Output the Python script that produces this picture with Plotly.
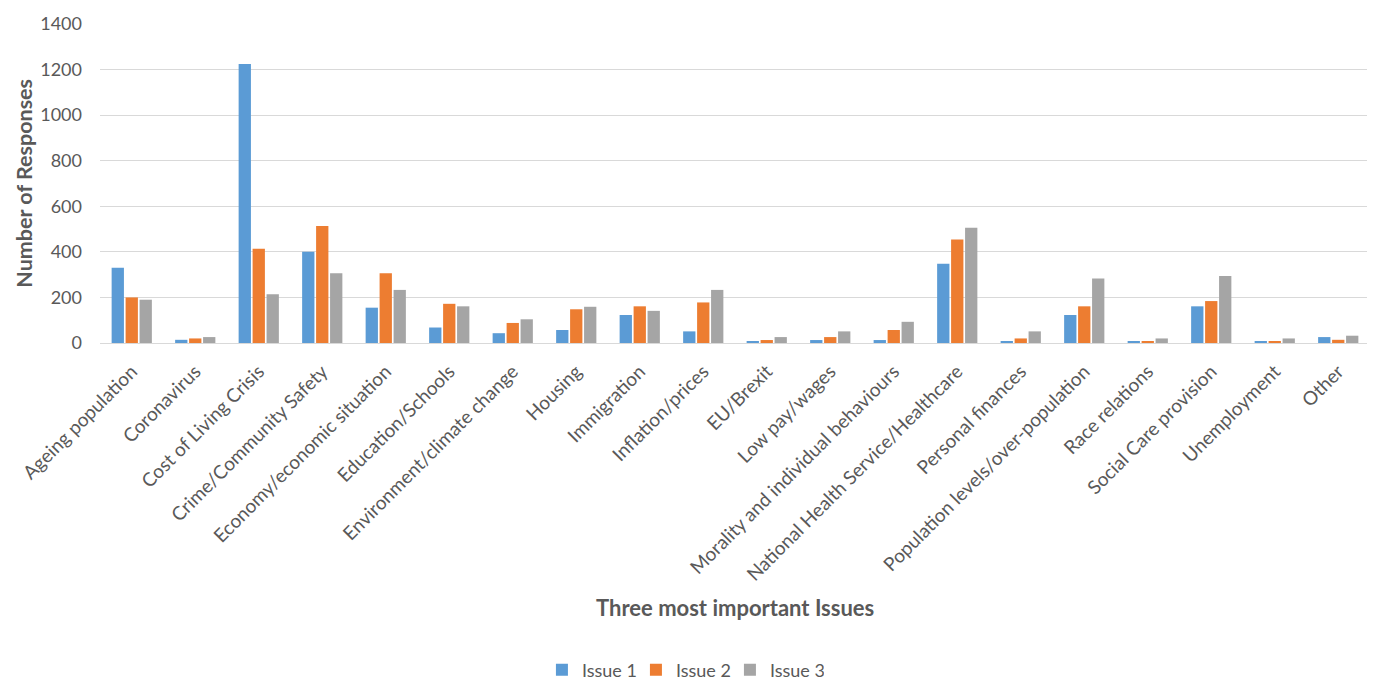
import plotly.graph_objects as go

categories = [
    "Ageing population", "Coronavirus", "Cost of Living Crisis", "Crime/Community Safety",
    "Economy/economic situation", "Education/Schools", "Environment/climate change",
    "Housing", "Immigration", "Inflation/prices", "EU/Brexit", "Low pay/wages",
    "Morality and individual behaviours", "National Health Service/Healthcare",
    "Personal finances", "Population levels/over-population", "Race relations",
    "Social Care provision", "Unemployment", "Other",
]
issue1 = [330, 14, 1225, 400, 155, 68, 43, 57, 123, 51, 7, 13, 13, 348, 7, 123, 7, 161, 7, 26]
issue2 = [200, 20, 414, 513, 306, 172, 88, 148, 161, 178, 13, 26, 57, 454, 20, 161, 7, 184, 7, 14]
issue3 = [190, 26, 214, 306, 233, 161, 104, 159, 141, 233, 26, 51, 93, 506, 51, 283, 20, 294, 20, 32]
series_names = ["Issue 1", "Issue 2", "Issue 3"]
colors = ["#5B9BD5", "#ED7D31", "#A5A5A5"]
y_ticks = [0, 200, 400, 600, 800, 1000, 1200, 1400]

FONT = "Lato"
TXT = "#595959"

fig = go.Figure()
for name, vals, col in zip(series_names, [issue1, issue2, issue3], colors):
    fig.add_trace(go.Bar(x=categories, y=vals, name=name, marker=dict(color=col, line=dict(width=0))))

# page body has an 8px margin, so the figure is sized/offset to compensate
fig.update_layout(
    width=1367, height=672,
    paper_bgcolor="white", plot_bgcolor="white",
    margin=dict(l=92, r=5, t=16, b=337, autoexpand=False),
    barmode="group", bargap=0.34, bargroupgap=0.12,
    font=dict(family=FONT, color=TXT, size=18),
    legend=dict(orientation="h", x=0.459, xanchor="center", y=-1.025, yanchor="middle",
                font=dict(size=18, color=TXT), itemwidth=30, traceorder="normal",
                entrywidth=49, entrywidthmode="pixels"),
    xaxis=dict(tickangle=-45, tickfont=dict(size=19, color=TXT), showgrid=False,
               showline=True, linecolor="#D9D9D9", linewidth=1, ticks="", ticklen=0,
               ticklabelstandoff=9, automargin=False),
    yaxis=dict(range=[0, 1400], tickvals=y_ticks, tickfont=dict(size=18, color=TXT),
               showgrid=True, gridcolor="#D9D9D9", gridwidth=1, zeroline=False,
               ticks="", ticklen=0, ticklabelstandoff=17, automargin=False),
    annotations=[
        dict(text="<b>Three most important Issues</b>", xref="paper", yref="paper",
             x=0.5, y=-0.8276, xanchor="center", yanchor="middle", showarrow=False,
             font=dict(size=22, color=TXT)),
        dict(text="<b>Number of Responses</b>", xref="paper", yref="paper",
             x=-0.0605, y=0.5, xanchor="center", yanchor="middle", showarrow=False,
             textangle=-90, font=dict(size=21.5, color=TXT)),
    ],
)

fig.write_html("out.html")
